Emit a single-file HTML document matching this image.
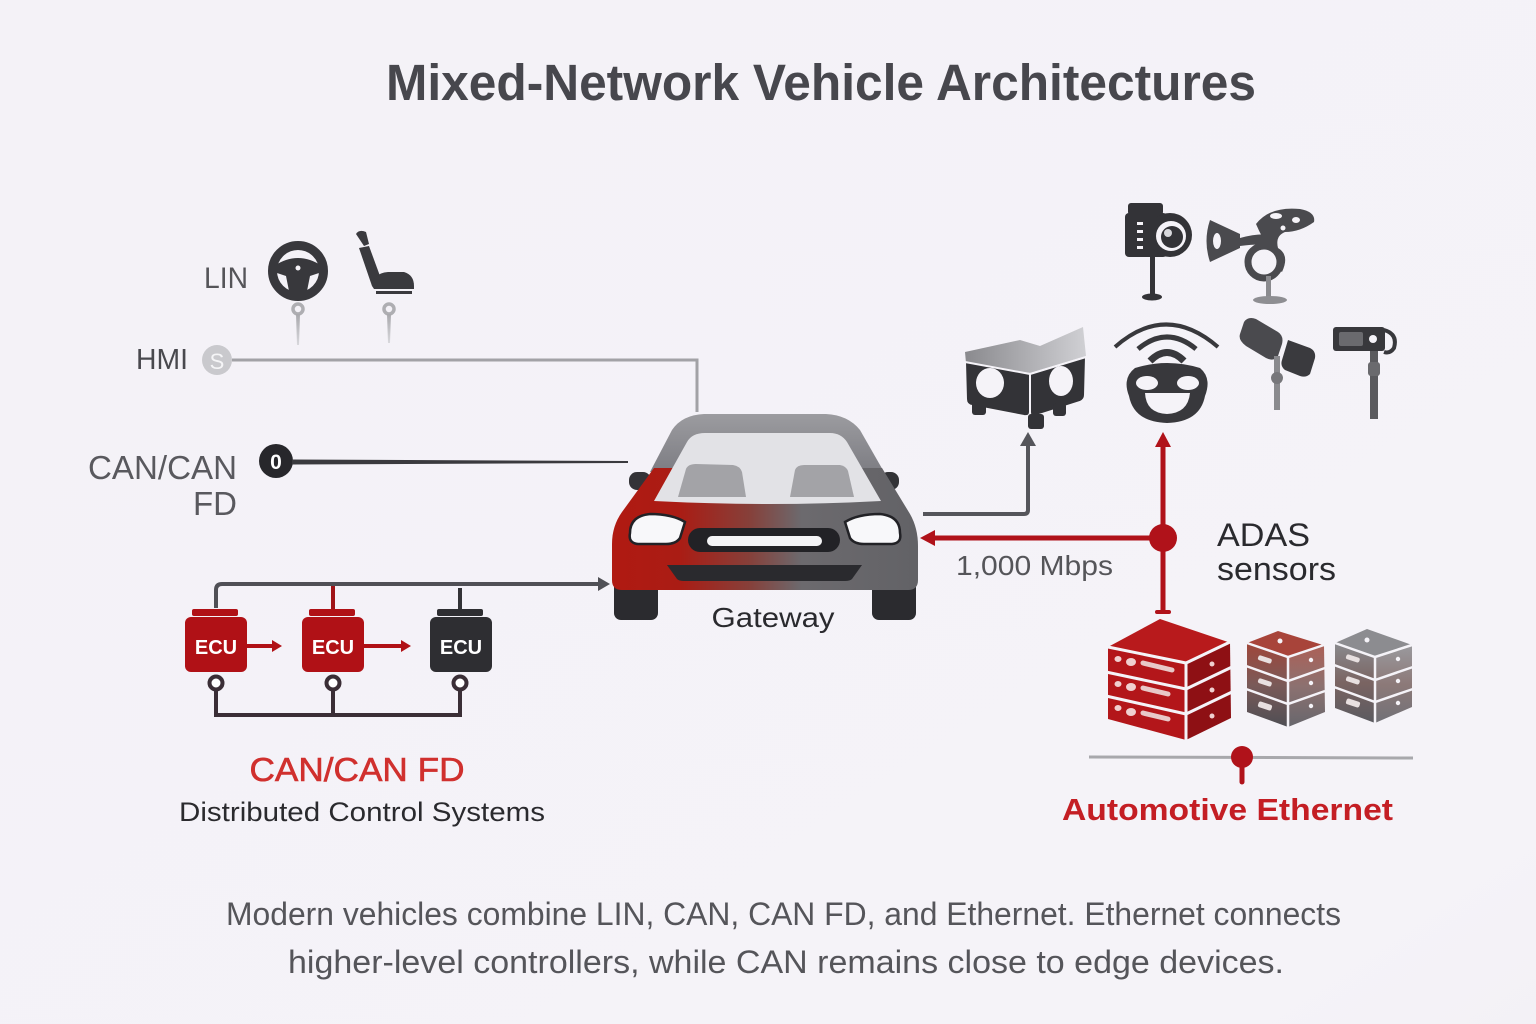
<!DOCTYPE html>
<html><head><meta charset="utf-8"><style>
html,body{margin:0;padding:0;background:#f5f3f8;}
svg{display:block;}
text{font-family:"Liberation Sans",sans-serif;}
</style></head><body>
<svg width="1536" height="1024" viewBox="0 0 1536 1024" xmlns="http://www.w3.org/2000/svg">
<defs>
<linearGradient id="bg" x1="0" y1="0" x2="1" y2="1">
<stop offset="0" stop-color="#f4f2f7"/><stop offset="0.9" stop-color="#f5f3f8"/><stop offset="1" stop-color="#f3f1f6"/>
</linearGradient>
<linearGradient id="body" x1="612" y1="0" x2="918" y2="0" gradientUnits="userSpaceOnUse">
<stop offset="0" stop-color="#b01a12"/><stop offset="0.22" stop-color="#aa1c14"/><stop offset="0.45" stop-color="#86403a"/><stop offset="0.62" stop-color="#6c6a6e"/><stop offset="1" stop-color="#626266"/>
</linearGradient>
<linearGradient id="roof" x1="0" y1="414" x2="0" y2="470" gradientUnits="userSpaceOnUse">
<stop offset="0" stop-color="#9c9ca0"/><stop offset="1" stop-color="#7e7e84"/>
</linearGradient>
<linearGradient id="pin" x1="0" y1="0" x2="0" y2="1">
<stop offset="0" stop-color="#a8a8ac"/><stop offset="1" stop-color="#d8d8dc"/>
</linearGradient>
<linearGradient id="srv2" x1="0" y1="0" x2="0" y2="1">
<stop offset="0" stop-color="#a0463a"/><stop offset="0.5" stop-color="#7a5a58"/><stop offset="1" stop-color="#4e4e54"/>
</linearGradient>
<linearGradient id="srv3" x1="0" y1="0" x2="0" y2="1">
<stop offset="0" stop-color="#8a8a8e"/><stop offset="0.5" stop-color="#7a6462"/><stop offset="1" stop-color="#5a5a60"/>
</linearGradient>
<linearGradient id="stereoTop" x1="0" y1="0" x2="1" y2="0">
<stop offset="0" stop-color="#8a8a8e"/><stop offset="1" stop-color="#d0d0d4"/>
</linearGradient>
</defs>
<rect width="1536" height="1024" fill="url(#bg)"/>

<!-- Title -->
<text x="386" y="100" font-size="51" font-weight="bold" fill="#47474d" textLength="870" lengthAdjust="spacingAndGlyphs">Mixed-Network Vehicle Architectures</text>

<!-- LIN -->
<text x="204" y="288" font-size="30" fill="#555559" textLength="44" lengthAdjust="spacingAndGlyphs">LIN</text>
<circle cx="298" cy="271" r="25.5" fill="none" stroke="#38383c" stroke-width="9"/>
<path d="M274 266 Q286 258 298 258 Q310 258 322 266 L322 272 L310 276 L306 296 L290 296 L286 276 L274 272 Z" fill="#38383c"/>
<circle cx="298" cy="268" r="2.5" fill="#f5f3f8"/>
<!-- seat -->
<path d="M356 234 Q359 229 366 232 L369 244 L364 246 Z" fill="#3a3a3e"/>
<path d="M359 248 L369 246 L380 276 L372 286 Z" fill="#3a3a3e"/>
<path d="M372 286 Q374 273 388 272 L404 272 Q414 275 414 286 L414 289 L374 289 Z" fill="#3a3a3e"/>
<rect x="376" y="291" width="36" height="3" fill="#3a3a3e"/>
<!-- pins -->
<circle cx="298" cy="309" r="5" fill="none" stroke="#aeaeb2" stroke-width="3.5"/>
<path d="M296 314 L300 314 L299 345 L297 345 Z" fill="url(#pin)"/>
<circle cx="389" cy="309" r="5" fill="none" stroke="#aeaeb2" stroke-width="3.5"/>
<path d="M387 314 L391 314 L390 343 L388 343 Z" fill="url(#pin)"/>

<!-- HMI -->
<text x="136" y="369" font-size="29" fill="#49494e" textLength="52" lengthAdjust="spacingAndGlyphs">HMI</text>
<circle cx="217" cy="360" r="15" fill="#c9c9cd"/>
<text x="217" y="369" font-size="22" fill="#f5f5f7" text-anchor="middle">S</text>
<path d="M232 360 L697 360 L697 412" fill="none" stroke="#a2a2a6" stroke-width="3"/>

<!-- CAN/CAN FD left -->
<text x="237" y="479" font-size="33" fill="#59595e" text-anchor="end" textLength="149" lengthAdjust="spacingAndGlyphs">CAN/CAN</text>
<text x="237" y="515" font-size="33" fill="#59595e" text-anchor="end">FD</text>
<circle cx="276" cy="461" r="17" fill="#27272b"/>
<text x="276" y="469" font-size="21" font-weight="bold" fill="#fff" text-anchor="middle">0</text>
<path d="M292 459.5 L628 461 L628 463 L292 464.5 Z" fill="#3a3a3e"/>

<!-- Car -->
<rect x="614" y="548" width="44" height="72" rx="7" fill="#2b2b2f"/>
<rect x="872" y="548" width="44" height="72" rx="7" fill="#2b2b2f"/>
<rect x="629" y="472" width="22" height="18" rx="8" fill="#333337"/>
<rect x="880" y="472" width="19" height="18" rx="8" fill="#333337"/>
<path d="M650 472 L672 430 Q682 415 704 414 L826 414 Q848 415 860 430 L884 472 Z" fill="url(#roof)"/>
<path d="M654 468 L882 468 L910 514 Q918 528 918 546 L918 580 Q918 590 908 590 L622 590 Q612 590 612 580 L612 544 Q612 526 622 512 Z" fill="url(#body)"/>
<path d="M654 501 L687 442 Q692 433 705 433 L830 433 Q841 433 847 442 L881 501 Q770 507 654 501 Z" fill="#e2e2e6"/>
<path d="M678 497 L686 469 Q688 464 696 464 L733 465 Q740 466 742 472 L746 497 Z" fill="#a3a3a7"/>
<path d="M790 497 L795 470 Q797 465 804 465 L840 465 Q846 466 848 471 L854 497 Z" fill="#a3a3a7"/>
<path d="M630 533 Q630 516 650 514 Q672 514 685 522 L680 538 Q676 544 666 544 L638 544 Q628 543 630 533 Z" fill="#f8f8fa" stroke="#222226" stroke-width="2.5"/>
<path d="M900 533 Q900 516 880 514 Q858 514 845 522 L850 538 Q854 544 864 544 L892 544 Q902 543 900 533 Z" fill="#f8f8fa" stroke="#222226" stroke-width="2.5"/>
<rect x="688" y="528" width="152" height="24" rx="12" fill="#222226"/>
<rect x="707" y="536" width="115" height="10" rx="5" fill="#f4f4f6"/>
<path d="M667 565 L862 565 L852 579 Q850 581 845 581 L684 581 Q679 581 677 579 Z" fill="#2a2a2e"/>
<text x="773" y="627" font-size="28" fill="#2a2a2e" text-anchor="middle" textLength="123" lengthAdjust="spacingAndGlyphs">Gateway</text>

<!-- ECU group -->
<path d="M216 608 L216 590 Q216 584 222 584 L600 584" fill="none" stroke="#505056" stroke-width="4"/>
<path d="M598 577 L610 584 L598 591 Z" fill="#505056"/>
<line x1="333" y1="586" x2="333" y2="610" stroke="#a01418" stroke-width="4"/>
<line x1="460" y1="588" x2="460" y2="610" stroke="#333337" stroke-width="4"/>
<rect x="192" y="609" width="46" height="7" rx="2" fill="#b01116"/>
<rect x="309" y="609" width="46" height="7" rx="2" fill="#b01116"/>
<rect x="437" y="609" width="46" height="7" rx="2" fill="#2e2e32"/>
<rect x="185" y="617" width="62" height="55" rx="6" fill="#b01116"/>
<rect x="302" y="617" width="62" height="55" rx="6" fill="#b01116"/>
<rect x="430" y="617" width="62" height="55" rx="6" fill="#2e2e32"/>
<text x="216" y="654" font-size="20" font-weight="bold" fill="#fff" text-anchor="middle">ECU</text>
<text x="333" y="654" font-size="20" font-weight="bold" fill="#fff" text-anchor="middle">ECU</text>
<text x="461" y="654" font-size="20" font-weight="bold" fill="#fff" text-anchor="middle">ECU</text>
<line x1="247" y1="646" x2="274" y2="646" stroke="#b01116" stroke-width="4"/>
<path d="M272 640 L282 646 L272 652 Z" fill="#b01116"/>
<line x1="364" y1="646" x2="403" y2="646" stroke="#b01116" stroke-width="4"/>
<path d="M401 640 L411 646 L401 652 Z" fill="#b01116"/>
<path d="M216 690 L216 715 L460 715 L460 690 M333 690 L333 715" fill="none" stroke="#3a2e36" stroke-width="4"/>
<circle cx="216" cy="683" r="6.5" fill="#fff" stroke="#3a2e36" stroke-width="4"/>
<circle cx="333" cy="683" r="6.5" fill="#fff" stroke="#3a2e36" stroke-width="4"/>
<circle cx="460" cy="683" r="6.5" fill="#fff" stroke="#3a2e36" stroke-width="4"/>
<text x="357" y="781" font-size="33" fill="#d0302e" stroke="#d0302e" stroke-width="0.6" text-anchor="middle" textLength="215" lengthAdjust="spacingAndGlyphs">CAN/CAN FD</text>
<text x="362" y="821" font-size="27" fill="#2a2a2e" text-anchor="middle" textLength="366" lengthAdjust="spacingAndGlyphs">Distributed Control Systems</text>

<!-- Connectors right -->
<path d="M923 514 L1024 514 Q1028 514 1028 510 L1028 444" fill="none" stroke="#55555b" stroke-width="4"/>
<path d="M1020 446 L1028 432 L1036 446 Z" fill="#55555b"/>
<line x1="932" y1="538" x2="1163" y2="538" stroke="#b0121a" stroke-width="5"/>
<path d="M935 530 L920 538 L935 546 Z" fill="#b0121a"/>
<line x1="1163" y1="444" x2="1163" y2="612" stroke="#b0121a" stroke-width="5"/>
<path d="M1155 447 L1163 432 L1171 447 Z" fill="#b0121a"/>
<rect x="1155" y="610" width="16" height="4" rx="2" fill="#b0121a"/>
<circle cx="1163" cy="538" r="14" fill="#b0121a"/>
<text x="956" y="575" font-size="28" fill="#555559" textLength="157" lengthAdjust="spacingAndGlyphs">1,000 Mbps</text>
<text x="1217" y="546" font-size="32" fill="#2a2a2e" textLength="93" lengthAdjust="spacingAndGlyphs">ADAS</text>
<text x="1217" y="580" font-size="32" fill="#2a2a2e" textLength="119" lengthAdjust="spacingAndGlyphs">sensors</text>

<!-- Camera icon -->
<rect x="1128" y="203" width="35" height="12" rx="3" fill="#333337"/>
<rect x="1125" y="213" width="42" height="44" rx="4" fill="#333337"/>
<rect x="1137" y="222" width="6" height="3" fill="#f5f3f8"/>
<rect x="1137" y="230" width="6" height="3" fill="#f5f3f8"/>
<rect x="1137" y="238" width="6" height="3" fill="#f5f3f8"/>
<rect x="1137" y="246" width="6" height="3" fill="#f5f3f8"/>
<circle cx="1170" cy="235" r="22" fill="#333337"/>
<circle cx="1171" cy="236" r="15" fill="#f5f3f8"/>
<circle cx="1172" cy="237" r="11" fill="#333337"/>
<circle cx="1168" cy="233" r="4" fill="#d8d8dc"/>
<rect x="1150" y="257" width="5" height="40" fill="#333337"/>
<ellipse cx="1152" cy="297" rx="10" ry="3.5" fill="#333337"/>
<!-- Horn icon -->
<path d="M1210 220 L1240 234 L1240 248 L1210 262 Q1203 241 1210 220 Z" fill="#4a4a4e"/>
<ellipse cx="1217" cy="241" rx="4" ry="8" fill="#f5f3f8"/>
<path d="M1240 238 Q1262 232 1275 236 L1275 246 Q1262 243 1240 246 Z" fill="#4a4a4e"/>
<circle cx="1264" cy="262" r="16" fill="none" stroke="#4a4a4e" stroke-width="7"/>
<path d="M1256 224 Q1270 206 1300 209 Q1316 212 1314 222 Q1300 232 1285 232 Q1275 236 1278 248 Q1290 255 1282 272 L1276 268 Q1282 256 1270 250 Q1262 238 1256 224 Z" fill="#4a4a4e"/>
<ellipse cx="1276" cy="216" rx="6" ry="3" fill="#f5f3f8"/>
<ellipse cx="1296" cy="220" rx="4" ry="3" fill="#f5f3f8"/>
<circle cx="1283" cy="228" r="2.5" fill="#f5f3f8"/>
<rect x="1266" y="276" width="5" height="22" fill="#8a8a8e"/>
<ellipse cx="1270" cy="300" rx="17" ry="4" fill="#8e8e92"/>
<!-- Stereo camera -->
<path d="M965 352 L1020 340 L1040 346 L1083 327 L1086 356 L1030 373 L966 363 Z" fill="url(#stereoTop)"/>
<path d="M965 362 L1030 374 L1030 412 Q1030 417 1024 416 L972 406 Q966 405 966 399 Z" fill="#333337" stroke="#f5f3f8" stroke-width="2"/>
<path d="M1030 374 L1086 357 L1085 395 Q1085 400 1080 402 L1036 416 Q1030 418 1030 412 Z" fill="#333337" stroke="#f5f3f8" stroke-width="2"/>
<ellipse cx="990" cy="383" rx="14" ry="15" fill="#f5f3f8"/>
<ellipse cx="1061" cy="381" rx="12" ry="15" fill="#f5f3f8"/>
<rect x="972" y="402" width="14" height="13" rx="3" fill="#333337"/>
<rect x="1028" y="414" width="16" height="15" rx="3" fill="#333337"/>
<rect x="1053" y="403" width="13" height="13" rx="3" fill="#333337"/>
<!-- Face / wifi -->
<path d="M1115 347 Q1166 302 1218 347" fill="none" stroke="#38383c" stroke-width="4"/>
<path d="M1138 349 Q1167 325 1196 349" fill="none" stroke="#38383c" stroke-width="5"/>
<path d="M1150 361 Q1167 344 1184 361" fill="none" stroke="#38383c" stroke-width="7"/>
<path d="M1135 368 Q1167 358 1200 368 Q1212 378 1205 396 Q1200 422 1167 423 Q1134 422 1129 396 Q1122 378 1135 368 Z" fill="#38383c"/>
<ellipse cx="1147" cy="383" rx="11" ry="7" fill="#f5f3f8"/>
<ellipse cx="1188" cy="383" rx="11" ry="7" fill="#f5f3f8"/>
<path d="M1145 393 L1190 393 Q1188 413 1167 414 Q1146 413 1145 393 Z" fill="#f5f3f8"/>
<!-- Mirror -->
<path d="M1244 322 Q1248 316 1256 319 L1278 332 Q1284 336 1282 344 L1278 356 Q1274 362 1266 358 L1246 346 Q1238 340 1240 334 Z" fill="#4a4a4e"/>
<path d="M1288 340 L1310 348 Q1316 351 1315 358 L1310 374 Q1306 378 1300 376 L1285 370 Q1280 366 1282 360 Z" fill="#3a3a3e"/>
<rect x="1274" y="356" width="6" height="54" fill="#8a8a8e"/>
<circle cx="1277" cy="378" r="6" fill="#77777b"/>
<!-- Tag camera -->
<rect x="1333" y="327" width="52" height="24" rx="3" fill="#38383c"/>
<rect x="1339" y="332" width="24" height="14" rx="2" fill="#6a6a6e"/>
<circle cx="1373" cy="339" r="4" fill="#f5f3f8"/>
<path d="M1384 330 Q1398 334 1394 348 Q1390 354 1384 352" fill="none" stroke="#38383c" stroke-width="4"/>
<rect x="1370" y="351" width="8" height="68" fill="#5a5a5e"/>
<rect x="1368" y="362" width="12" height="14" rx="3" fill="#6a6a6e"/>

<!-- Servers -->
<path d="M1108 647 L1160 619 L1228 642 L1186 662 Z" fill="#b81a1c"/>
<path d="M1108 647 L1186 663 L1186 740 L1108 719 Z" fill="#b3161a"/>
<path d="M1186 663 L1230 642 L1231 718 L1186 740 Z" fill="#8e1014"/>
<path d="M1108 647 L1186 663 L1230 642" fill="none" stroke="#f5f3f8" stroke-width="3"/>
<line x1="1186" y1="663" x2="1186" y2="741" stroke="#f5f3f8" stroke-width="3"/>
<path d="M1106 672 L1186 689 L1232 667" fill="none" stroke="#f5f3f8" stroke-width="3"/>
<path d="M1106 696 L1186 714 L1232 692" fill="none" stroke="#f5f3f8" stroke-width="3"/>
<ellipse cx="1118" cy="659" rx="3.5" ry="3" fill="#f0d0d0"/><ellipse cx="1131" cy="662" rx="5" ry="4" fill="#f0d0d0"/>
<path d="M1143 663 L1172 670" stroke="#e8c8c8" stroke-width="5" stroke-linecap="round"/>
<ellipse cx="1118" cy="684" rx="3.5" ry="3" fill="#f0d0d0"/><ellipse cx="1131" cy="687" rx="5" ry="4" fill="#f0d0d0"/>
<path d="M1143 688 L1168 694" stroke="#e8c8c8" stroke-width="5" stroke-linecap="round"/>
<ellipse cx="1118" cy="708" rx="3.5" ry="3" fill="#f0d0d0"/><ellipse cx="1131" cy="712" rx="5" ry="4" fill="#f0d0d0"/>
<path d="M1143 713 L1168 719" stroke="#e8c8c8" stroke-width="5" stroke-linecap="round"/>
<circle cx="1212" cy="664" r="2.5" fill="#f0d0d0"/><circle cx="1212" cy="690" r="2.5" fill="#f0d0d0"/><circle cx="1212" cy="716" r="2.5" fill="#f0d0d0"/>

<path d="M1247 643 L1278 631 L1323 645 L1288 657 Z" fill="#a8443a"/>
<path d="M1247 643 L1288 657 L1288 727 L1247 712 Z" fill="url(#srv2)"/>
<path d="M1288 657 L1324 645 L1325 712 L1288 727 Z" fill="url(#srv2)" opacity="0.85"/>
<path d="M1247 643 L1288 657 L1324 645 M1288 657 L1288 728 M1246 666 L1288 681 L1325 668 M1246 689 L1288 704 L1325 691" fill="none" stroke="#f5f3f8" stroke-width="2.5"/>
<rect x="1258" y="657" width="14" height="5" rx="2" fill="#e8e0e0" transform="rotate(18 1265 659)"/>
<rect x="1258" y="680" width="14" height="5" rx="2" fill="#e8e0e0" transform="rotate(18 1265 682)"/>
<rect x="1258" y="703" width="14" height="6" rx="2" fill="#e8e0e0" transform="rotate(18 1265 706)"/>
<circle cx="1280" cy="641" r="2.5" fill="#f5f3f8"/>
<circle cx="1311" cy="660" r="2.2" fill="#f5f3f8"/><circle cx="1311" cy="683" r="2.2" fill="#f5f3f8"/><circle cx="1311" cy="706" r="2.2" fill="#f5f3f8"/>

<path d="M1335 643 L1367 629 L1412 645 L1375 657 Z" fill="#8c8c90"/>
<path d="M1335 643 L1375 657 L1375 723 L1335 708 Z" fill="url(#srv3)"/>
<path d="M1375 657 L1412 645 L1412 707 L1375 723 Z" fill="url(#srv3)" opacity="0.85"/>
<path d="M1335 643 L1375 657 L1412 645 M1375 657 L1375 724 M1334 665 L1375 680 L1413 667 M1334 687 L1375 702 L1413 689" fill="none" stroke="#f5f3f8" stroke-width="2.5"/>
<rect x="1346" y="656" width="14" height="5" rx="2" fill="#e8e0e0" transform="rotate(18 1353 658)"/>
<rect x="1346" y="678" width="14" height="5" rx="2" fill="#e8e0e0" transform="rotate(18 1353 680)"/>
<rect x="1346" y="700" width="14" height="6" rx="2" fill="#e8e0e0" transform="rotate(18 1353 703)"/>
<circle cx="1367" cy="640" r="2.5" fill="#f5f3f8"/>
<circle cx="1398" cy="659" r="2.2" fill="#f5f3f8"/><circle cx="1398" cy="681" r="2.2" fill="#f5f3f8"/><circle cx="1398" cy="703" r="2.2" fill="#f5f3f8"/>

<!-- Ethernet bus -->
<line x1="1089" y1="757" x2="1413" y2="758" stroke="#a8a8ac" stroke-width="3"/>
<line x1="1242" y1="766" x2="1242" y2="782" stroke="#b0121a" stroke-width="5" stroke-linecap="round"/>
<circle cx="1242" cy="757" r="11" fill="#b0121a"/>
<text x="1062" y="820" font-size="31" font-weight="bold" fill="#c41e24" textLength="331" lengthAdjust="spacingAndGlyphs">Automotive Ethernet</text>

<!-- Bottom text -->
<text x="226" y="925" font-size="32" fill="#55555a" textLength="1115" lengthAdjust="spacingAndGlyphs">Modern vehicles combine LIN, CAN, CAN FD, and Ethernet. Ethernet connects</text>
<text x="288" y="973" font-size="32" fill="#55555a" textLength="996" lengthAdjust="spacingAndGlyphs">higher-level controllers, while CAN remains close to edge devices.</text>
</svg>
</body></html>
